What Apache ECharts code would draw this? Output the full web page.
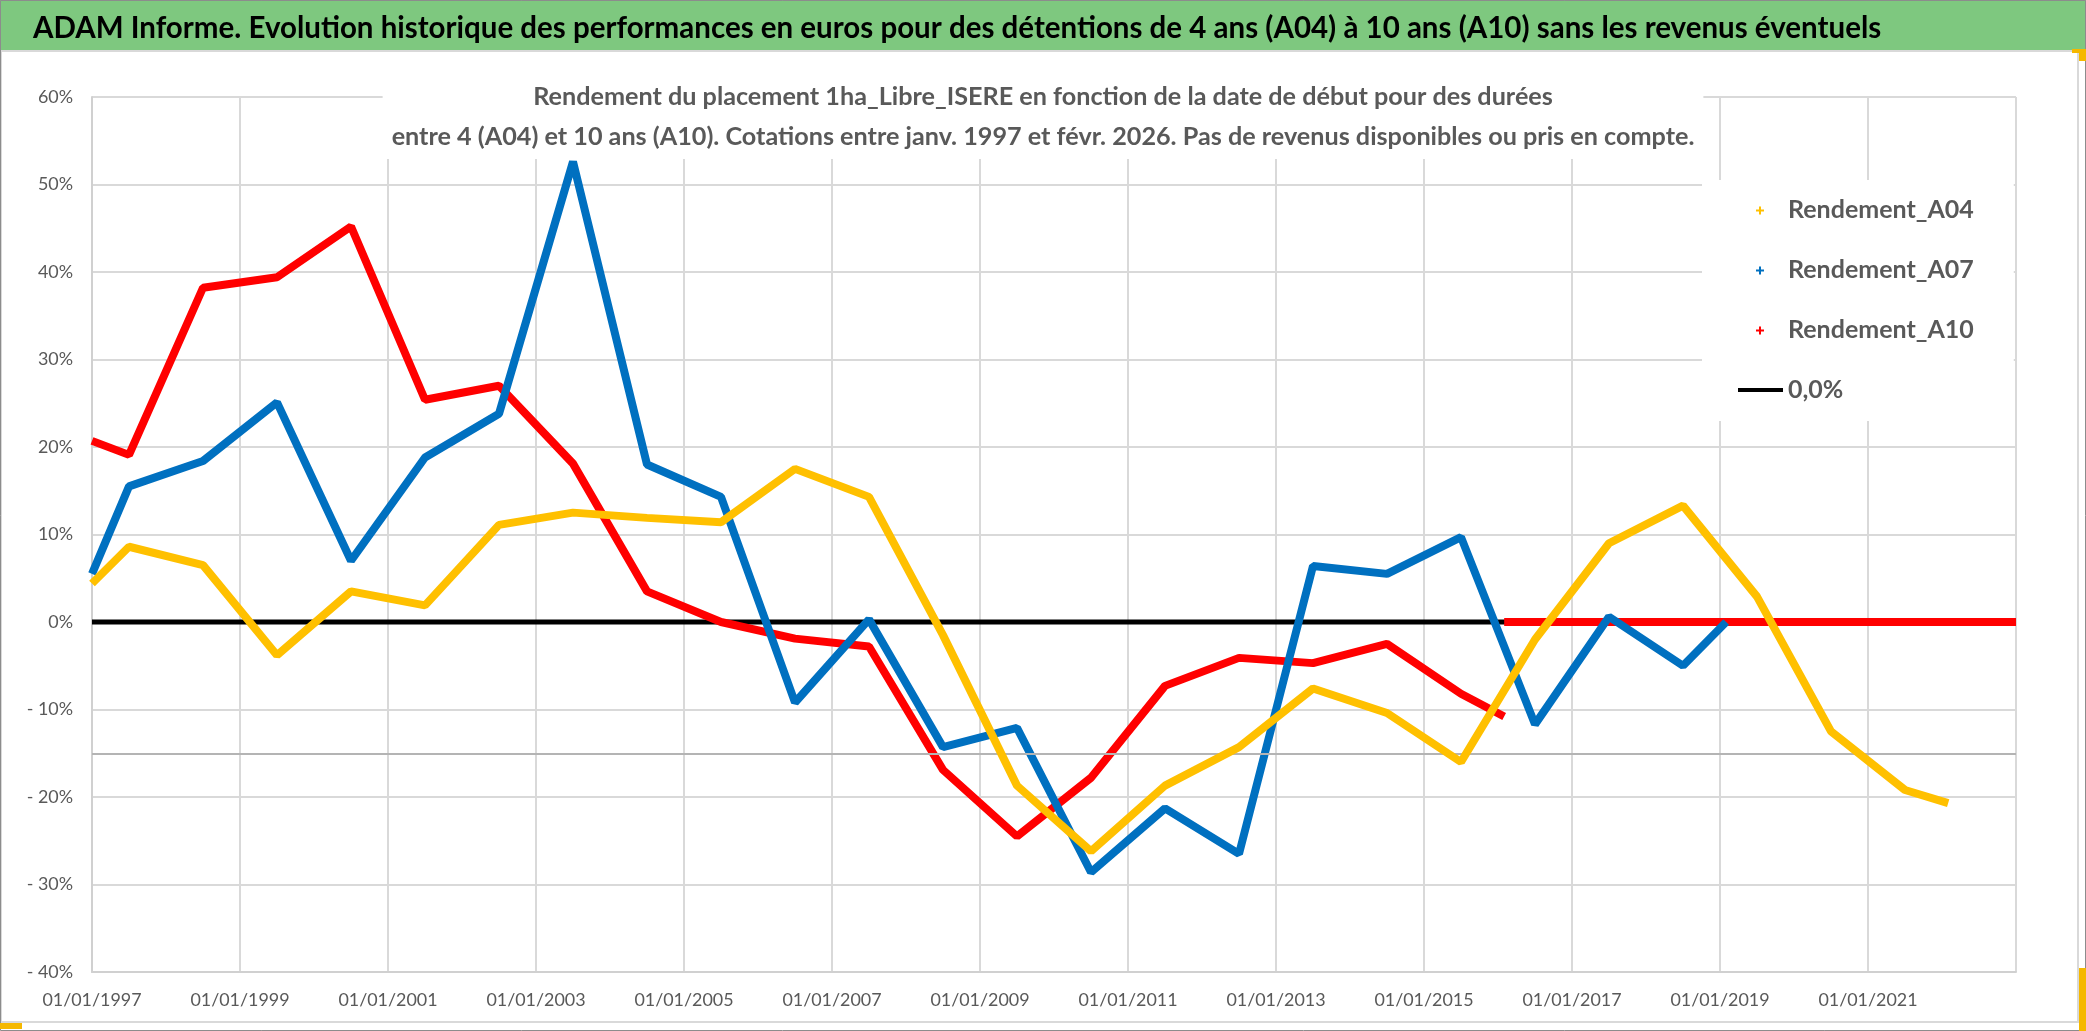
<!DOCTYPE html>
<html><head><meta charset="utf-8">
<script src="https://cdn.jsdelivr.net/npm/echarts@6/dist/echarts.min.js"></script>
<style>html,body{margin:0;padding:0;background:#fff;overflow:hidden}#c{width:2086px;height:1031px}</style>
</head><body><div id="c"></div>
<script>
// ---------- texts ----------
const titleText = "ADAM Informe. Evolution historique des performances en euros pour des détentions de 4 ans (A04) à 10 ans (A10) sans les revenus éventuels";
const subtitleLines = [
  "Rendement du placement 1ha_Libre_ISERE en fonction de la date de début pour des durées",
  "entre 4 (A04) et 10 ans (A10). Cotations entre janv. 1997 et févr. 2026. Pas de revenus disponibles ou pris en compte."
];
const seriesNames = ["Rendement_A04", "Rendement_A07", "Rendement_A10", "0,0%"];

// ---------- axes ----------
const xStartYear = 1997, xEndYear = 2023, xStepYears = 2;
const yMinPct = -40, yMaxPct = 60, yStepPct = 10;
const greyRefLine = -15;

// ---------- data (start dates YYYY-MM, returns in %) ----------
const datesA04 = ["1997-01","1997-07","1998-07","1999-07","2000-07","2001-07","2002-07","2003-07","2004-07","2005-07",
  "2006-07","2007-07","2008-07","2009-07","2010-07","2011-07","2012-07","2013-07","2014-07","2015-07",
  "2016-07","2017-07","2018-07","2019-07","2020-07","2021-07","2022-02"];
const valuesA04 = [4.4, 8.6, 6.5, -3.8, 3.5, 1.9, 11.1, 12.5, 11.9, 11.4,
  17.5, 14.3, -1.5, -18.7, -26.2, -18.7, -14.3, -7.6, -10.4, -16.0,
  -2.0, 9.0, 13.3, 2.9, -12.5, -19.2, -20.7];

const datesA07 = ["1997-01","1997-07","1998-07","1999-07","2000-07","2001-07","2002-07","2003-07","2004-07","2005-07",
  "2006-07","2007-07","2008-07","2009-07","2010-07","2011-07","2012-07","2013-07","2014-07","2015-07",
  "2016-07","2017-07","2018-07","2019-02"];
const valuesA07 = [5.5, 15.5, 18.4, 25.1, 7.0, 18.8, 23.8, 52.6, 18.0, 14.3,
  -9.2, 0.3, -14.3, -12.1, -28.6, -21.3, -26.5, 6.4, 5.5, 9.7,
  -11.7, 0.6, -5.0, 0.0];

const datesA10 = ["1997-01","1997-07","1998-07","1999-07","2000-07","2001-07","2002-07","2003-07","2004-07","2005-07",
  "2006-07","2007-07","2008-07","2009-07","2010-07","2011-07","2012-07","2013-07","2014-07","2015-07",
  "2016-02","2016-02","2016-02","2023-01"];
const valuesA10 = [20.7, 19.1, 38.2, 39.4, 45.2, 25.4, 27.0, 18.1, 3.5, 0.0,
  -1.9, -2.8, -16.9, -24.5, -17.8, -7.3, -4.1, -4.7, -2.5, -8.2,
  -10.8, null, 0.0, 0.0];

const datesZero = ["1997-01","2023-01"];
const valuesZero = [0, 0];

// ---------- helpers ----------
const FONT = "Lato";
function toYear(s){ return +s.slice(0,4) + (+s.slice(5,7) - 1) / 12; }
function pairs(dates, vals){ return dates.map((d,i)=>[toYear(d), vals[i]]); }
const ctx = document.createElement('canvas').getContext('2d');
function fit(text, weight, target){
  ctx.font = weight + ' 100px ' + FONT;
  return Math.round(100 * target / ctx.measureText(text).width * 10) / 10;
}
const titleSize = fit(titleText, 'bold', 1847);
const subSize = fit(subtitleLines[1], 'bold', 1302);
const legendSize = fit("Rendement_A04", 'bold', 186);
const axisSize = fit("01/01/1997", 'normal', 99);

const plusIcon = 'path://M0,0M45,10M21,1.5h2v3h3v2h-3v3h-2v-3h-3v-2h3z';
const lineIcon = 'path://M0,0M45,10M0,3h45v4h-45z';

const colors = ['#FFC000', '#0070C0', '#FF0000', '#000000'];

const chart = echarts.init(document.getElementById('c'), null, {renderer:'canvas'});
chart.setOption({
  animation: false,
  backgroundColor: '#ffffff',
  color: colors,
  graphic: [
    {type:'rect', z:-10, shape:{x:0,y:0,width:2086,height:50}, style:{fill:'#7ec87f'}},
    {type:'rect', z:-9, shape:{x:1,y:51,width:2077,height:971}, style:{fill:'none', stroke:'#d9d9d9', lineWidth:2}},
    {type:'rect', z:-9, shape:{x:0.5,y:0.5,width:2085,height:1030}, style:{fill:'none', stroke:'#8c8c8c', lineWidth:1}},
    {type:'rect', z:20, shape:{x:0,y:1023,width:22,height:6}, style:{fill:'#f5b800'}},
    {type:'rect', z:20, shape:{x:2079,y:968,width:7,height:63}, style:{fill:'#f5b800'}},
    {type:'rect', z:20, shape:{x:2072,y:49,width:14,height:4}, style:{fill:'#f5b800'}},
    {type:'rect', z:20, shape:{x:2079,y:49,width:7,height:12}, style:{fill:'#f5b800'}}
  ],
  title: [
    {text: titleText, left: 33, top: 28 - titleSize/2, padding: 0,
     textStyle:{fontFamily: FONT, fontSize: titleSize, fontWeight:'bold', color:'#000000'}},
    {text: subtitleLines.join('\n'), left: 'center', top: 75, padding:[2,9,2,9], backgroundColor:'#ffffff',
     textStyle:{fontFamily: FONT, fontSize: subSize, fontWeight:'bold', color:'#595959', lineHeight:40}}
  ],
  legend: {
    orient:'vertical', left:1702, top:180, z:10,
    backgroundColor:'#ffffff', padding:[15,40,16,36],
    itemWidth:45, itemHeight:10, itemGap:30,
    selectedMode:false,
    textStyle:{fontFamily: FONT, fontSize: legendSize, fontWeight:'bold', color:'#595959', lineHeight:30},
    data:[
      {name: seriesNames[0], icon: plusIcon},
      {name: seriesNames[1], icon: plusIcon},
      {name: seriesNames[2], icon: plusIcon},
      {name: seriesNames[3], icon: lineIcon}
    ]
  },
  grid: {left:92, right:70, top:97, bottom:59, containLabel:false},
  xAxis: {
    type:'value', min:xStartYear, max:xEndYear, interval:xStepYears,
    axisLine:{show:true, onZero:false, lineStyle:{color:'#d0d0d0', width:2}},
    axisTick:{show:false},
    splitLine:{show:true, lineStyle:{color:'#d9d9d9', width:2}},
    axisLabel:{margin:19, color:'#595959', fontFamily:FONT, fontSize:axisSize,
      formatter: v => v >= xEndYear ? '' : '01/01/' + v}
  },
  yAxis: {
    type:'value', min:yMinPct, max:yMaxPct, interval:yStepPct,
    axisLine:{show:true, lineStyle:{color:'#d0d0d0', width:2}},
    axisTick:{show:false},
    splitLine:{show:true, lineStyle:{color:'#d9d9d9', width:2}},
    axisLabel:{margin:19, color:'#595959', fontFamily:FONT, fontSize:axisSize,
      formatter: v => v < 0 ? '- ' + Math.abs(v) + '%' : v + '%'}
  },
  series: [
    {name: seriesNames[3], type:'line', z:2, data: pairs(datesZero, valuesZero), showSymbol:false, symbol:'none',
     lineStyle:{color:'#000', width:5}, itemStyle:{color:'#000'}, silent:true,
     markLine:{silent:true, symbol:['none','none'], label:{show:false},
       lineStyle:{color:'#b4b4b4', width:2, type:'solid'}, data:[{yAxis: greyRefLine}]}},
    {name: seriesNames[2], type:'line', z:3, data: pairs(datesA10, valuesA10), showSymbol:false, symbol:'none', connectNulls:false,
     lineStyle:{color:colors[2], width:8}, itemStyle:{color:colors[2]}, silent:true},
    {name: seriesNames[1], type:'line', z:4, data: pairs(datesA07, valuesA07), showSymbol:false, symbol:'none',
     lineStyle:{color:colors[1], width:8}, itemStyle:{color:colors[1]}, silent:true},
    {name: seriesNames[0], type:'line', z:5, data: pairs(datesA04, valuesA04), showSymbol:false, symbol:'none',
     lineStyle:{color:colors[0], width:8}, itemStyle:{color:colors[0]}, silent:true}
  ]
});
</script></body></html>
